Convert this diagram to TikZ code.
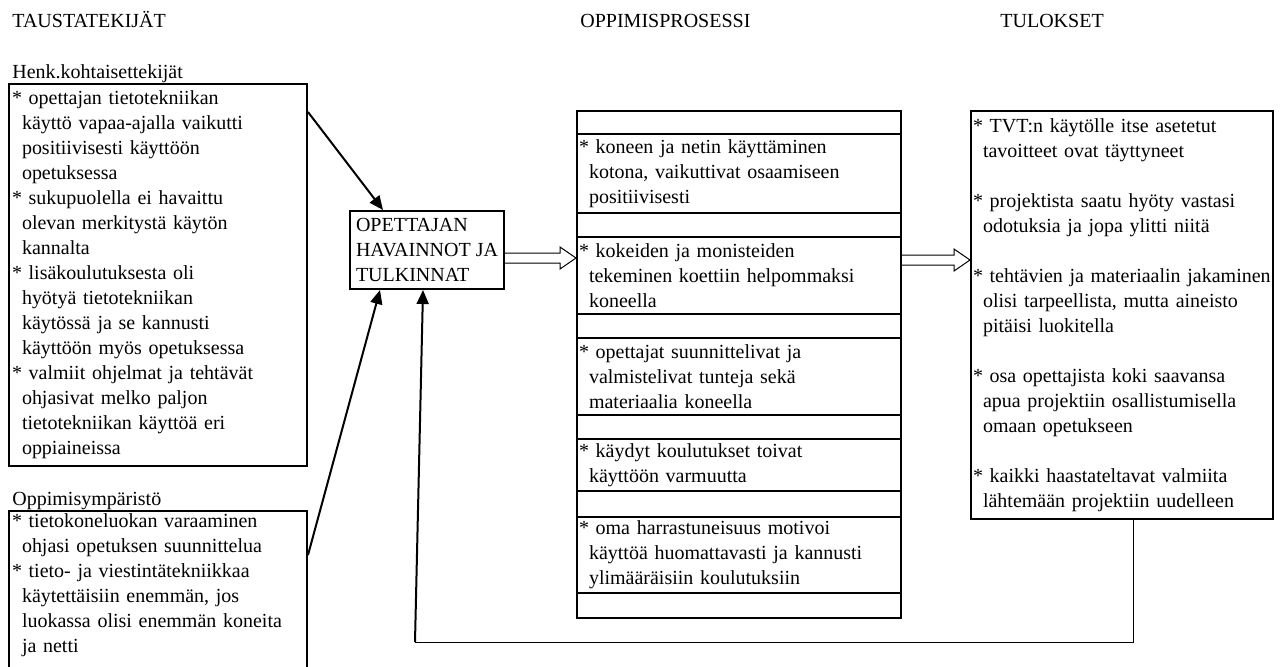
\documentclass[tikz,border=0pt]{standalone}
\usepackage{fontspec}
\setmainfont{Liberation Serif}
\usetikzlibrary{arrows.meta,positioning,calc}
\newcommand{\sis}{\hspace*{5pt}}
\newcommand{\tyhjanuoli}[2]{\draw[line width=0.5pt,fill=white] let \p1=#1, \p2=#2 in
  (\x1,\y1+2.5pt) -- (\x2-8pt,\y1+2.5pt) -- (\x2-8pt,\y1+5.5pt) -- (\x2,\y1)
  -- (\x2-8pt,\y1-5.5pt) -- (\x2-8pt,\y1-2.5pt) -- (\x1,\y1-2.5pt);}

\begin{document}
\begin{tikzpicture}[x=0.5pt,y=-0.5pt,font=\fontsize{10}{12.5}\selectfont,
  laatikko/.style={draw,line width=1pt,align=left,inner ysep=0pt,anchor=north west},
  rivi/.style={draw,line width=1pt,align=left,minimum width=162pt,text width=160pt,inner xsep=1pt,inner ysep=0pt},
  teksti/.style={inner sep=0pt,anchor=base west},
  nuoli/.style={line width=1pt,-{Triangle[length=7pt,width=6pt]}}]
\useasboundingbox (0,0) rectangle (1286,666);
% otsikot
\node[teksti] (tausta) at (12,27) {TAUSTATEKIJÄT};
\node[teksti] (prosessi) at (580,27) {OPPIMISPROSESSI};
\node[teksti] (tulokset) at (1000,27) {TULOKSET};
% taustatekijät
\node[teksti] (henkotsikko) at (12,78) {Henk.kohtaisettekijät};
\node[laatikko,text width=146pt,inner xsep=1.5pt,minimum height=191pt] (henk) at (8,83)
  {{*} opettajan tietotekniikan\\ \sis käyttö vapaa-ajalla vaikutti\\ \sis positiivisesti käyttöön\\ \sis opetuksessa\\
   {*} sukupuolella ei havaittu\\ \sis olevan merkitystä käytön\\ \sis kannalta\\
   {*} lisäkoulutuksesta oli\\ \sis hyötyä tietotekniikan\\ \sis käytössä ja se kannusti\\ \sis käyttöön myös opetuksessa\\
   {*} valmiit ohjelmat ja tehtävät\\ \sis ohjasivat melko paljon\\ \sis tietotekniikan käyttöä eri\\ \sis oppiaineissa};
\node[teksti] (ympotsikko) at (12,505) {Oppimisympäristö};
\node[laatikko,text width=146pt,inner xsep=1.5pt,inner ysep=1.5pt] (ymp) at (8,510)
  {{*} tietokoneluokan varaaminen\\ \sis ohjasi opetuksen suunnittelua\\
   {*} tieto- ja viestintätekniikkaa\\ \sis käytettäisiin enemmän, jos\\ \sis luokassa olisi enemmän koneita\\ \sis ja netti\\ \mbox{}};
% havainnot
\node[laatikko,inner xsep=3pt,minimum height=39pt] (hav) at (349,210)
  {OPETTAJAN\\ HAVAINNOT JA\\ TULKINNAT};
% oppimisprosessi
\node[rivi,minimum height=11.5pt,anchor=north west] (tyhja1) at (576,110) {};
\node[rivi,minimum height=39.5pt,below=-1pt of tyhja1] (koti)
  {{*} koneen ja netin käyttäminen\\ \sis kotona, vaikuttivat osaamiseen\\ \sis positiivisesti};
\node[rivi,minimum height=12pt,below=-1pt of koti] (tyhja2) {};
\node[rivi,minimum height=38.5pt,below=-1pt of tyhja2] (kokeet)
  {{*} kokeiden ja monisteiden\\ \sis tekeminen koettiin helpommaksi\\ \sis koneella};
\node[rivi,minimum height=12pt,below=-1pt of kokeet] (tyhja3) {};
\node[rivi,minimum height=38.5pt,below=-1pt of tyhja3] (suunnittelu)
  {{*} opettajat suunnittelivat ja\\ \sis valmistelivat tunteja sekä\\ \sis materiaalia koneella};
\node[rivi,minimum height=12pt,below=-1pt of suunnittelu] (tyhja4) {};
\node[rivi,minimum height=26pt,below=-1pt of tyhja4] (koulutus)
  {{*} käydyt koulutukset toivat\\ \sis käyttöön varmuutta};
\node[rivi,minimum height=13pt,below=-1pt of koulutus] (tyhja5) {};
\node[rivi,minimum height=38pt,below=-1pt of tyhja5] (harrastus)
  {{*} oma harrastuneisuus motivoi\\ \sis käyttöä huomattavasti ja kannusti\\ \sis ylimääräisiin koulutuksiin};
\node[rivi,minimum height=12.5pt,below=-1pt of harrastus] (tyhja6) {};
% tulokset
\node[laatikko,text width=149pt,inner xsep=1pt,minimum height=204pt] (tul) at (970,110)
  {{*} TVT:n käytölle itse asetetut\\ \sis tavoitteet ovat täyttyneet\\[12.5pt]
   {*} projektista saatu hyöty vastasi\\ \sis odotuksia ja jopa ylitti niitä\\[12.5pt]
   {*} tehtävien ja materiaalin jakaminen\\ \sis olisi tarpeellista, mutta aineisto\\ \sis pitäisi luokitella\\[12.5pt]
   {*} osa opettajista koki saavansa\\ \sis apua projektiin osallistumisella\\ \sis omaan opetukseen\\[12.5pt]
   {*} kaikki haastateltavat valmiita\\ \sis lähtemään projektiin uudelleen};
% nuolet
\draw[nuoli] ([yshift=-14.5pt]henk.north east) -- ([xshift=17pt]hav.north west);
\draw[nuoli] ([yshift=-22.5pt]ymp.north east) -- ([xshift=15.5pt]hav.south west);
\tyhjanuoli{([yshift=-4pt]hav.east)}{([yshift=-4pt]hav.east -| kokeet.west)}
\tyhjanuoli{([yshift=-12pt]kokeet.north east)}{([yshift=-12pt]kokeet.north east -| tul.west)}
% palaute
\coordinate (kulma1) at (1133,642);
\coordinate (kulma2) at (415,642);
\draw[line width=0.5pt] ([xshift=81.5pt]tul.south west) -- (kulma1) -- (kulma2);
\draw[nuoli] (kulma2) -- ([xshift=37pt]hav.south west);
\end{tikzpicture}
\end{document}
